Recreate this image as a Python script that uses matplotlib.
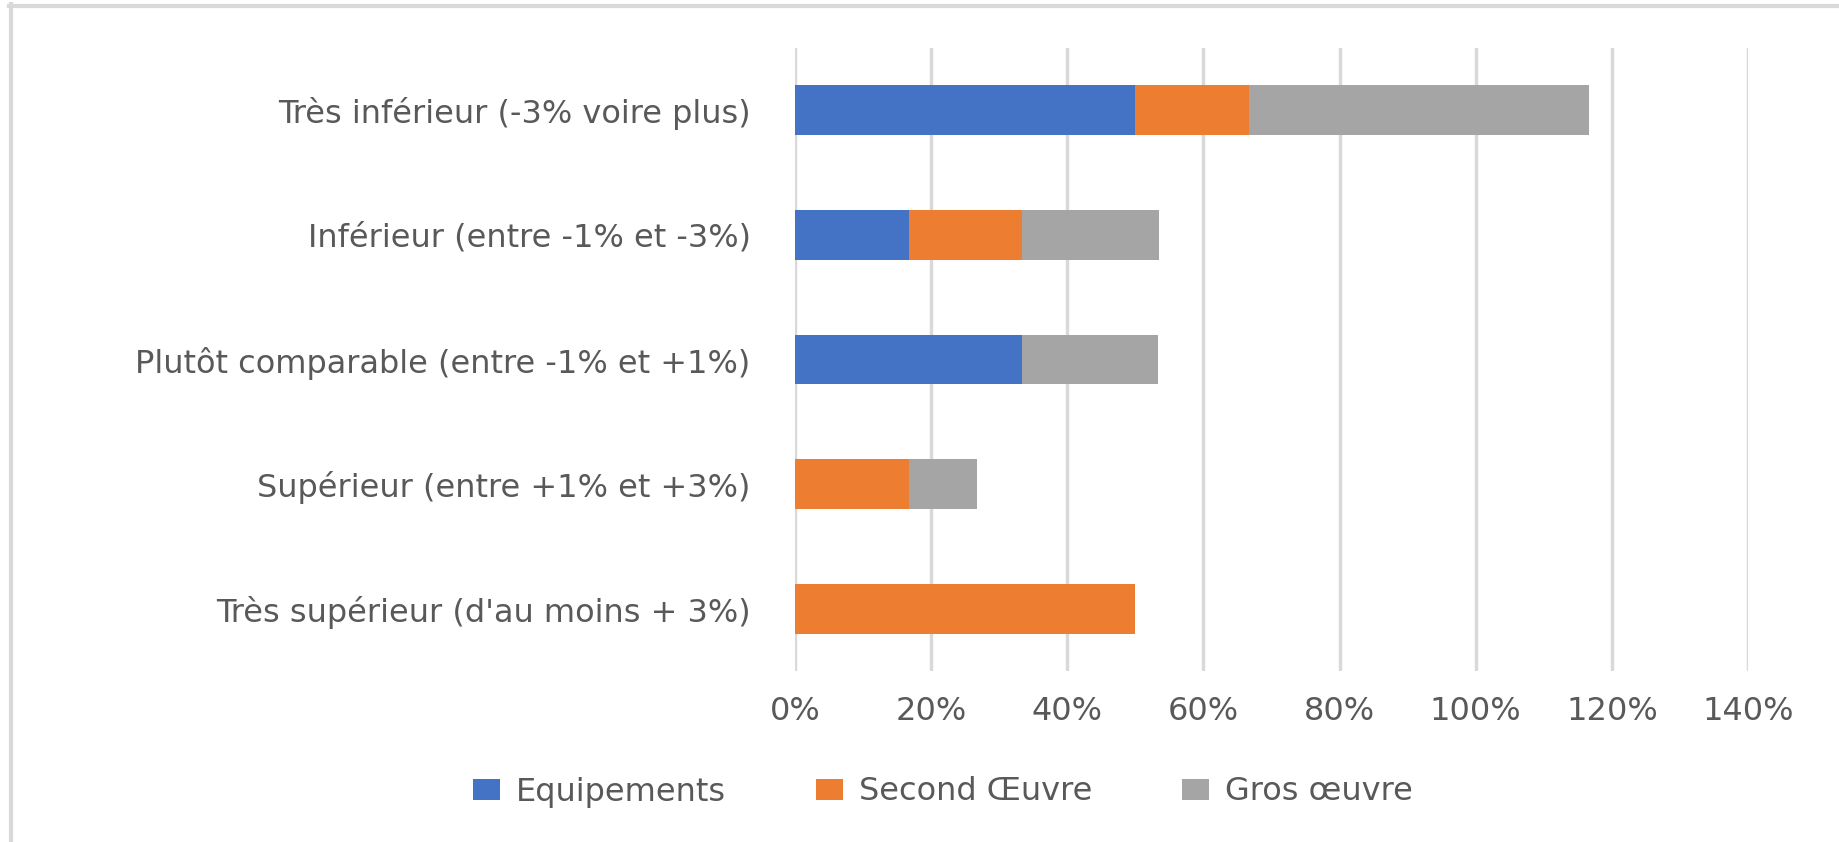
import matplotlib
matplotlib.use("Agg")
import matplotlib.pyplot as plt
from matplotlib.lines import Line2D
from matplotlib.ticker import FuncFormatter

categories = [
    "Très inférieur (-3% voire plus)",
    "Inférieur (entre -1% et -3%)",
    "Plutôt comparable (entre -1% et +1%)",
    "Supérieur (entre +1% et +3%)",
    "Très supérieur (d'au moins + 3%)",
]
equipements = [50.0, 16.7, 33.3, 0.0, 0.0]
second_oeuvre = [16.7, 16.7, 0.0, 16.7, 50.0]
gros_oeuvre = [50.0, 20.0, 20.0, 10.0, 0.0]
series_names = ["Equipements", "Second Œuvre", "Gros œuvre"]
xticks = [0, 20, 40, 60, 80, 100, 120, 140]

colors = ["#4472C4", "#ED7D31", "#A5A5A5"]
text_color = "#595959"

plt.rcParams['font.family'] = ['DejaVu Sans']

W, H = 1840, 842
fig = plt.figure(figsize=(W / 100, H / 100), dpi=100)
ax = fig.add_axes([795 / W, 1 - 671 / H, (1748 - 795) / W, (671 - 48) / H])

# stacked horizontal bars
y = list(range(len(categories)))
left = [0.0] * len(categories)
for name, vals, c in zip(series_names, [equipements, second_oeuvre, gros_oeuvre], colors):
    ax.barh(y, vals, left=left, height=0.4, color=c, label=name, zorder=3)
    left = [l + v for l, v in zip(left, vals)]

ax.set_xlim(0, 140)
ax.set_ylim(len(categories) - 0.5, -0.5)
ax.set_xticks(xticks)
ax.xaxis.set_major_formatter(FuncFormatter(lambda v, p: f"{v:.0f}%"))
ax.set_yticks(y)
ax.set_yticklabels(categories)
ax.grid(axis='x', color='#D9D9D9', linewidth=2.5, zorder=0)
ax.tick_params(axis='both', length=0, labelsize=23, colors=text_color)
ax.tick_params(axis='x', pad=18)
ax.tick_params(axis='y', pad=32)
for s in ax.spines.values():
    s.set_visible(False)

fig.legend(loc='center', bbox_to_anchor=(943 / W, 1 - 792 / H), ncol=3,
           frameon=False, fontsize=23, labelcolor=text_color,
           handlelength=0.85, handleheight=0.65, handletextpad=0.5, columnspacing=2.8)

# chart area border (top and left visible)
fig.add_artist(Line2D([9 / W, 1], [1 - 5.5 / H, 1 - 5.5 / H], color='#D9D9D9', linewidth=3, transform=fig.transFigure))
fig.add_artist(Line2D([11 / W, 11 / W], [0, 1 - 4 / H], color='#D9D9D9', linewidth=3, transform=fig.transFigure))

fig.savefig("out.png", dpi=100)
